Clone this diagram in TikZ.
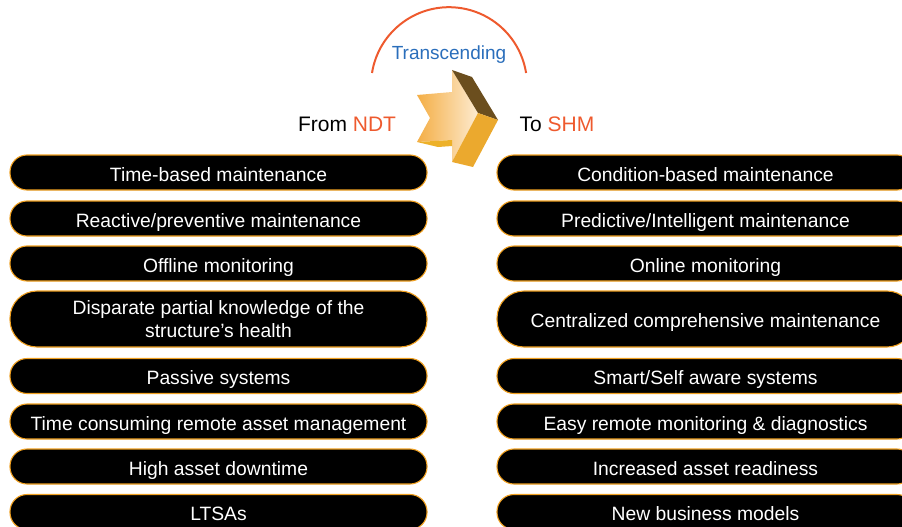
\documentclass[tikz,border=0pt]{standalone}
\usepackage{fontspec}
\setmainfont{Liberation Sans}
\usetikzlibrary{positioning}

\definecolor{hotorange}{HTML}{EE5A2E}
\definecolor{headblue}{HTML}{2A6EBB}
\definecolor{rimorange}{HTML}{F0A020}
\definecolor{arrowlight}{HTML}{FDEBD0}
\definecolor{arrowdark}{HTML}{F4AE45}
\definecolor{arrowtop}{HTML}{6B4E1E}
\definecolor{arrowside}{HTML}{EBA92E}

\tikzset{
  itembase/.style={draw=rimorange, line width=1.1pt, fill=black, text=white,
    rounded corners=17pt, minimum width=417pt, minimum height=35pt,
    align=center, inner sep=0pt, font=\fontsize{19.3}{23}\selectfont},
  oneline/.style={text height=21pt, text depth=4pt},
  item/.style={itembase, oneline},
  tallitem/.style={itembase, minimum height=56pt, rounded corners=27pt},
  heading/.style={font=\fontsize{21}{25}\selectfont, inner sep=0pt}
}

\begin{document}
\begin{tikzpicture}[x=1pt,y=-1pt]
            \useasboundingbox (0,0) rectangle (902,527);

            % the arc and its label
            \draw[hotorange, line width=2pt] (372,73) arc[start angle=189, end angle=351, radius=78];
            \node[font=\fontsize{19}{23}\selectfont, text=headblue, inner sep=0pt] (trans) at (449,55) {Transcending};

            % the 3d arrow
            \shade[left color=arrowdark, right color=arrowlight, shading angle=90]
                (417,95) -- (452,92) -- (452,70) -- (478,113) -- (452,162) -- (452,140) -- (417,142) -- (430,118) -- cycle;
            \fill[arrowtop] (452,70) -- (472,77) -- (498,120) -- (478,113) -- cycle;
            \fill[arrowside] (478,113) -- (498,120) -- (473,167) -- (452,162) -- cycle;
            \fill[arrowside!90!yellow] (417,142) -- (438,147) -- (452,146) -- (452,140) -- cycle;

            % headings
            \node[heading] (from) at (347,124) {From \textcolor{hotorange}{NDT}};
            \node[heading] (to) at (557,124) {To \textcolor{hotorange}{SHM}};

            % left column
            \node[item] (ndt1) at (218.5,172.5) {Time-based maintenance};
            \node[item] (ndt2) at (218.5,218.5) {Reactive/preventive maintenance};
            \node[item] (ndt3) at (218.5,263.5) {Offline monitoring};
            \node[tallitem] (ndt4) at (218.5,319) {Disparate partial knowledge of the\\structure’s health};
            \node[item] (ndt5) at (218.5,376) {Passive systems};
            \node[item] (ndt6) at (218.5,421.5) {Time consuming remote asset management};
            \node[item] (ndt7) at (218.5,466.5) {High asset downtime};
            \node[item] (ndt8) at (218.5,512) {LTSAs};

            % right column
            \node[item] (shm1) at (705.5,172.5) {Condition-based maintenance};
            \node[item] (shm2) at (705.5,218.5) {Predictive/Intelligent maintenance};
            \node[item] (shm3) at (705.5,263.5) {Online monitoring};
            \node[tallitem, oneline] (shm4) at (705.5,319) {Centralized comprehensive maintenance};
            \node[item] (shm5) at (705.5,376) {Smart/Self aware systems};
            \node[item] (shm6) at (705.5,421.5) {Easy remote monitoring \& diagnostics};
            \node[item] (shm7) at (705.5,466.5) {Increased asset readiness};
            \node[item] (shm8) at (705.5,512) {New business models};
        \end{tikzpicture}
\end{document}
